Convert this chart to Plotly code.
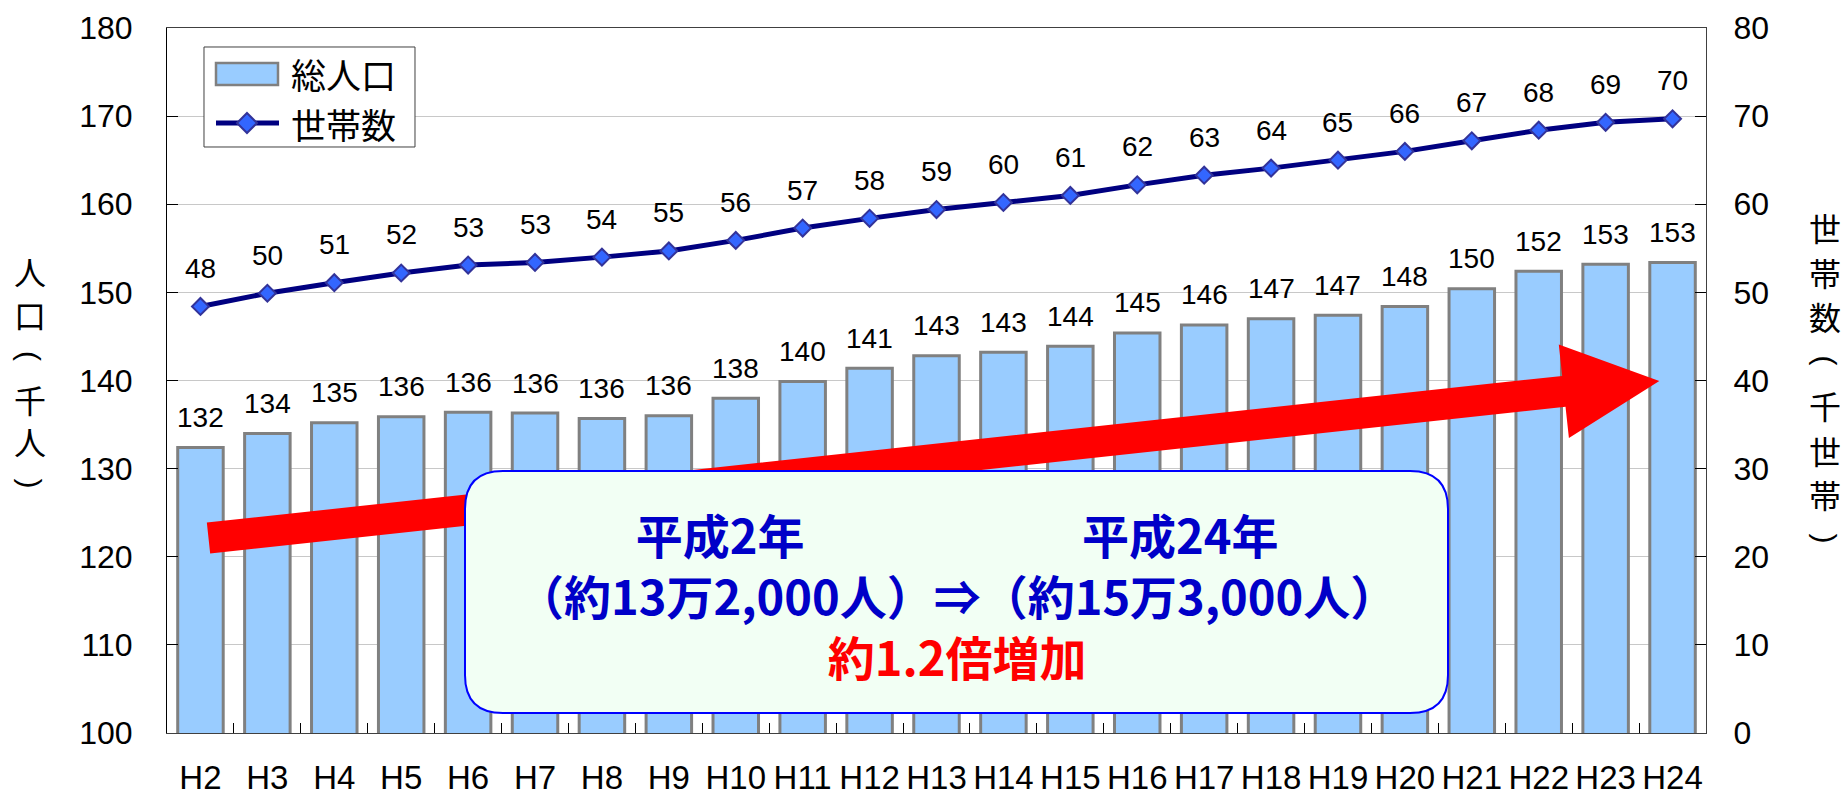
import math
import plotly.graph_objects as go

# ---------------- data ----------------
years = ["H2", "H3", "H4", "H5", "H6", "H7", "H8", "H9", "H10", "H11", "H12", "H13",
         "H14", "H15", "H16", "H17", "H18", "H19", "H20", "H21", "H22", "H23", "H24"]
population = [132.4, 134.0, 135.2, 135.9, 136.4, 136.3, 135.7, 136.0, 138.0, 139.9, 141.4, 142.8,
              143.2, 143.9, 145.4, 146.3, 147.0, 147.4, 148.4, 150.4, 152.4, 153.2, 153.4]
population_labels = [132, 134, 135, 136, 136, 136, 136, 136, 138, 140, 141, 143,
                     143, 144, 145, 146, 147, 147, 148, 150, 152, 153, 153]
households = [48.4, 49.9, 51.1, 52.2, 53.1, 53.4, 54.0, 54.7, 55.9, 57.3, 58.4, 59.4,
              60.2, 61.0, 62.2, 63.3, 64.1, 65.0, 66.0, 67.2, 68.4, 69.3, 69.7]
household_labels = [48, 50, 51, 52, 53, 53, 54, 55, 56, 57, 58, 59,
                    60, 61, 62, 63, 64, 65, 66, 67, 68, 69, 70]

series_names = ["総人口", "世帯数"]
left_title = "人口（千人）"
right_title = "世帯数（千世帯）"
box_line1_left = "平成2年"
box_line1_right = "平成24年"
box_line2 = "（約13万2,000人）⇒（約15万3,000人）"
box_line3 = "約1.2倍増加"

# ---------------- layout geometry (pixels) ----------------
W, H = 1847, 797
PL, PR, PT, PB = 167, 1706, 28, 733


def px2paper(x, y):
    return (x - PL) / (PR - PL), (PB - y) / (PB - PT)


def pt(x, y):
    a, b = px2paper(x, y)
    return f"{a:.5f},{b:.5f}"


def rect_path(x0, y0, x1, y1):
    return f"M{pt(x0, y0)} L{pt(x1, y0)} L{pt(x1, y1)} L{pt(x0, y1)} Z"


NUM_FONT = "Liberation Sans, Arial, sans-serif"
JP_FONT = "Noto Sans CJK JP, sans-serif"

BAR_FILL, BAR_LINE = "#99CCFF", "#808080"
LINE_COL, MK_FILL, MK_LINE = "#000080", "#3366FF", "#333399"

fig = go.Figure()
fig.add_trace(go.Bar(
    x=years, y=population, name=series_names[0], yaxis="y",
    marker=dict(color=BAR_FILL, line=dict(color=BAR_LINE, width=3)),
))
fig.add_trace(go.Scatter(
    x=years, y=households, name=series_names[1], yaxis="y2", mode="lines+markers",
    line=dict(color=LINE_COL, width=5),
    marker=dict(symbol="diamond", size=13, color=MK_FILL, line=dict(color=MK_LINE, width=2)),
))

annotations = []
for yr, v, lab in zip(years, population, population_labels):
    annotations.append(dict(x=yr, y=v, xref="x", yref="y", text=str(lab), showarrow=False,
                            xanchor="center", yanchor="middle",
                            yshift=30, font=dict(family=NUM_FONT, size=28, color="black")))
for yr, v, lab in zip(years, households, household_labels):
    annotations.append(dict(x=yr, y=v, xref="x", yref="y2", text=str(lab), showarrow=False,
                            xanchor="center", yanchor="middle",
                            yshift=38, font=dict(family=NUM_FONT, size=28, color="black")))


def paper_text(text, cx, cy, font, xanchor="center", angle=0):
    a, b = px2paper(cx, cy)
    annotations.append(dict(x=a, y=b, xref="paper", yref="paper", showarrow=False, text=text,
                            xanchor=xanchor, yanchor="middle", textangle=angle, font=font,
                            align="center"))


# vertical axis titles, one glyph per row (brackets rotated to vertical forms)
def vertical_title(text, cx, top, pitch):
    for i, ch in enumerate(text):
        cy = top + i * pitch
        if ch in "（）":
            c = "(" if ch == "（" else ")"
            paper_text(c, cx, cy, dict(family=NUM_FONT, size=30, color="black"), angle=90)
        else:
            paper_text(ch, cx, cy, dict(family=JP_FONT, size=32, color="black"))


vertical_title(left_title, 30, 271, 42.5)
vertical_title(right_title, 1825, 227, 44.5)

# box text (one block, three lines)
BLUE = "#0000C8"
gap = "　" * 5 + "&nbsp;" * 4
box_text = (f"<b>{box_line1_left}{gap}{box_line1_right}<br>{box_line2}<br>"
            f"<span style='color:#FF0000'>{box_line3}</span></b>")
paper_text(box_text, 957, 594, dict(family=JP_FONT, size=47, color=BLUE))

# legend texts
for name, cy in zip(series_names, [74, 124]):
    paper_text(name, 289, cy, dict(family=JP_FONT, size=35, color="black"), xanchor="left")

# arrow polygon
Tx, Ty = 208.5, 538.0
Px, Py = 1659.3, 381.0
dx, dy = Px - Tx, Py - Ty
L = math.hypot(dx, dy)
ux, uy = dx / L, dy / L
nx, ny = -uy, ux
hw, hhw, hl = 15.5, 47.0, 96.0
Bx, By = Px - hl * ux, Py - hl * uy
poly = [(Tx + hw * nx, Ty + hw * ny), (Bx + hw * nx, By + hw * ny), (Bx + hhw * nx, By + hhw * ny),
        (Px, Py), (Bx - hhw * nx, By - hhw * ny), (Bx - hw * nx, By - hw * ny), (Tx - hw * nx, Ty - hw * ny)]
arrow_path = "M" + " L".join(pt(x, y) for x, y in poly) + " Z"

# rounded box
x0, x1, y0, y1, r = 465, 1448, 471, 713, 38
box_path = (f"M{pt(x0 + r, y0)} L{pt(x1 - r, y0)} Q{pt(x1, y0)} {pt(x1, y0 + r)} "
            f"L{pt(x1, y1 - r)} Q{pt(x1, y1)} {pt(x1 - r, y1)} L{pt(x0 + r, y1)} "
            f"Q{pt(x0, y1)} {pt(x0, y1 - r)} L{pt(x0, y0 + r)} Q{pt(x0, y0)} {pt(x0 + r, y0)} Z")

# legend graphics
dcx, dcy, dr = 247, 123, 10
diamond = f"M{pt(dcx, dcy - dr)} L{pt(dcx + dr, dcy)} L{pt(dcx, dcy + dr)} L{pt(dcx - dr, dcy)} Z"

shapes = [
    dict(type="path", path=arrow_path, xref="paper", yref="paper", fillcolor="#FF0000",
         line=dict(width=0), layer="above"),
    dict(type="path", path=box_path, xref="paper", yref="paper", fillcolor="#F2FFF4",
         line=dict(color="#0000FF", width=2), layer="above"),
    dict(type="path", path=rect_path(204, 47, 415, 147), xref="paper", yref="paper",
         fillcolor="white", line=dict(color="#404040", width=1), layer="above"),
    dict(type="path", path=rect_path(216, 63, 278, 85), xref="paper", yref="paper",
         fillcolor=BAR_FILL, line=dict(color=BAR_LINE, width=2.5), layer="above"),
    dict(type="line", x0=px2paper(216, 0)[0], x1=px2paper(279, 0)[0],
         y0=px2paper(0, 123)[1], y1=px2paper(0, 123)[1], xref="paper", yref="paper",
         line=dict(color=LINE_COL, width=5), layer="above"),
    dict(type="path", path=diamond, xref="paper", yref="paper", fillcolor=MK_FILL,
         line=dict(color=MK_LINE, width=2), layer="above"),
]

fig.update_layout(
    width=W, height=H,
    margin=dict(l=PL, r=W - PR, t=PT, b=H - PB, pad=0),
    paper_bgcolor="white", plot_bgcolor="white",
    bargap=0.32,
    showlegend=False,
    xaxis=dict(type="category", range=[-0.5, len(years) - 0.5], tickangle=0, ticks="inside",
               tickson="boundaries", ticklen=10,
               tickcolor="black", showline=True, linecolor="#404040", linewidth=1, mirror=True,
               showgrid=False, ticklabelstandoff=15, automargin=False,
               tickfont=dict(family=NUM_FONT, size=33, color="black")),
    yaxis=dict(range=[100, 180], dtick=10, ticks="inside", ticklen=11, tickcolor="black",
               showline=True, linecolor="black", linewidth=1, showgrid=True, gridcolor="#C8C8C8",
               gridwidth=1, zeroline=False, ticklabelstandoff=27, automargin=False,
               tickfont=dict(family=NUM_FONT, size=32, color="black")),
    yaxis2=dict(range=[0, 80], dtick=10, ticks="inside", ticklen=11, tickcolor="black",
                overlaying="y", side="right", showline=True, linecolor="#404040", linewidth=1,
                showgrid=False, zeroline=False, ticklabelstandoff=20, automargin=False,
                tickfont=dict(family=NUM_FONT, size=32, color="black")),
    annotations=annotations,
    shapes=shapes,
)

fig.write_html("out.html", config={"displayModeBar": False},
               post_script="document.body.style.margin='0px';document.body.style.overflow='hidden';")
